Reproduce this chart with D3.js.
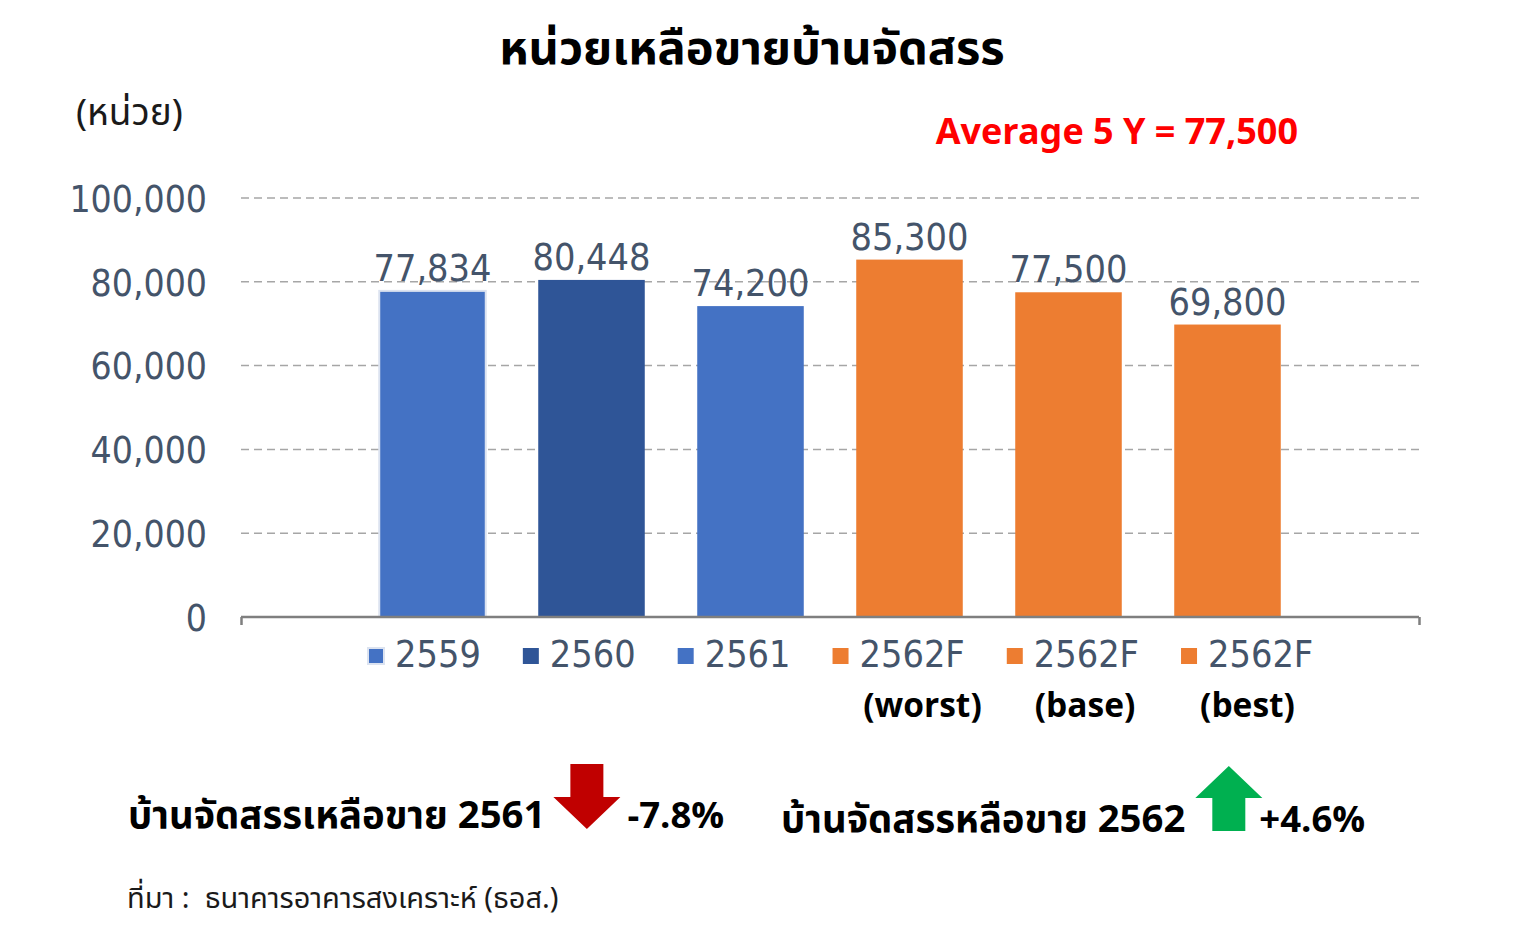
<!DOCTYPE html>
<html>
<head>
<meta charset="utf-8">
<script src="https://cdn.jsdelivr.net/npm/d3@7"></script>
<style>
  html, body { margin: 0; padding: 0; background: #ffffff; }
  svg { display: block; }
</style>
</head>
<body>
<svg id="chart" width="1516" height="934"></svg>
<script>
// ---- data ----
const categories = ["2559", "2560", "2561", "2562F", "2562F", "2562F"];
const subLabels = ["", "", "", "(worst)", "(base)", "(best)"];
const values = [77834, 80448, 74200, 85300, 77500, 69800];
const valueLabels = ["77,834", "80,448", "74,200", "85,300", "77,500", "69,800"];
const barColors = ["#4472C4", "#2F5597", "#4472C4", "#ED7D31", "#ED7D31", "#ED7D31"];
const yTicks = [0, 20000, 40000, 60000, 80000, 100000];
const title = "หน่วยเหลือขายบ้านจัดสรร";
const unitLabel = "(หน่วย)";
const averageNote = "Average 5 Y = 77,500";
const notes = [
  { text: "บ้านจัดสรรเหลือขาย 2561", change: "-7.8%", dir: "down" },
  { text: "บ้านจัดสรรหลือขาย 2562", change: "+4.6%", dir: "up" }
];
const source = "ที่มา :  ธนาคารอาคารสงเคราะห์ (ธอส.)";

// ---- layout ----
const svg = d3.select("#chart");
const plot = { left: 241, right: 1419, top: 198, bottom: 617 };
const numFont = "'DejaVu Sans Condensed', 'DejaVu Sans', sans-serif";
const thaiFont = "'Noto Sans Thai', 'Noto Sans', 'Noto Sans CJK SC', sans-serif";
const textGrey = "#44546A";

const y = d3.scaleLinear().domain([0, 100000]).range([plot.bottom, plot.top]);
const idx = categories.map((d, i) => i);
const x = d3.scaleBand().domain(idx).range([353, 1307]).paddingInner(0.33).paddingOuter(0.165);

// title
svg.append("text").attr("x", 752).attr("y", 64).attr("text-anchor", "middle")
  .attr("font-family", thaiFont).attr("font-weight", "bold").attr("font-size", 47)
  .attr("fill", "#000").text(title);

svg.append("text").attr("x", 76).attr("y", 125)
  .attr("font-family", thaiFont).attr("font-size", 37)
  .attr("fill", "#1a1a1a").text(unitLabel);

svg.append("text").attr("x", 1298).attr("y", 144).attr("text-anchor", "end")
  .attr("font-family", thaiFont).attr("font-weight", "bold").attr("font-size", 36)
  .attr("fill", "#FF0000").text(averageNote);

// gridlines
svg.append("g").selectAll("line").data(yTicks.filter(d => d > 0)).join("line")
  .attr("x1", plot.left).attr("x2", plot.right)
  .attr("y1", d => y(d)).attr("y2", d => y(d))
  .attr("stroke", "#A6A6A6").attr("stroke-width", 1.5).attr("stroke-dasharray", "8,5");

// y axis labels
const yAxis = d3.axisLeft(y).tickValues(yTicks).tickSize(0).tickPadding(0)
  .tickFormat(d3.format(","));
const yg = svg.append("g").attr("transform", `translate(${207},0)`).call(yAxis);
yg.select(".domain").remove();
yg.selectAll("text").attr("font-family", numFont).attr("font-size", 37)
  .attr("fill", textGrey).attr("dy", "0.36em");

// bars
svg.append("g").selectAll("rect").data(values).join("rect")
  .attr("x", (d, i) => x(i)).attr("width", x.bandwidth())
  .attr("y", d => y(d)).attr("height", d => plot.bottom - y(d))
  .attr("fill", (d, i) => barColors[i])
  .attr("stroke", (d, i) => i === 0 ? "#DCE3F0" : "none")
  .attr("stroke-width", 2);

// value labels
svg.append("g").selectAll("text").data(values).join("text")
  .attr("x", (d, i) => x(i) + x.bandwidth() / 2)
  .attr("y", d => y(d) - 10)
  .attr("text-anchor", "middle")
  .attr("font-family", numFont).attr("font-size", 37.5)
  .attr("fill", textGrey)
  .text((d, i) => valueLabels[i]);

// x axis line
const xAxisScale = d3.scaleLinear().domain([0, 1]).range([plot.left, plot.right]);
const xAxis = d3.axisBottom(xAxisScale).tickValues([0, 1]).tickSize(8).tickFormat("");
const xg = svg.append("g").attr("transform", `translate(0,${plot.bottom})`).call(xAxis);
xg.select(".domain").attr("stroke", "#7F7F7F").attr("stroke-width", 2.5)
  .attr("d", `M${plot.left},0H${plot.right}`);
xg.selectAll(".tick line").attr("stroke", "#7F7F7F").attr("stroke-width", 2.5);

// legend-like category labels
const legend = svg.append("g");
let lx = 368;
const legY = 667;
categories.forEach((c, i) => {
  legend.append("rect").attr("x", lx).attr("y", legY - 19).attr("width", 16).attr("height", 16)
    .attr("fill", barColors[i])
    .attr("stroke", i === 0 ? "#DCE3F0" : "none").attr("stroke-width", 2);
  const t = legend.append("text").attr("x", lx + 27).attr("y", legY)
    .attr("font-family", numFont).attr("font-size", 37.5).attr("fill", textGrey).text(c);
  const w = t.node().getComputedTextLength();
  lx += 27 + w + 42;
});

// sub labels
svg.append("g").selectAll("text").data(subLabels).join("text")
  .attr("x", (d, i) => x(i) + x.bandwidth() / 2 + 13 + (i - 3) * 3.5)
  .attr("y", 717).attr("text-anchor", "middle")
  .attr("font-family", thaiFont).attr("font-weight", "bold").attr("font-size", 33.5)
  .attr("fill", "#000").text(d => d);

// notes with arrows
const noteX = [128, 781];
const noteY = [828, 832];
const arrowGap = [8, 10];
const arrowColor = { down: "#C00000", up: "#00B050" };
notes.forEach((n, i) => {
  const t = svg.append("text").attr("x", noteX[i]).attr("y", noteY[i])
    .attr("font-family", thaiFont).attr("font-weight", "bold").attr("font-size", 38.3)
    .attr("fill", "#000").text(n.text);
  const w = t.node().getComputedTextLength();
  const ax = noteX[i] + w + arrowGap[i];
  const aw = 67, sw = 33;
  let path;
  if (n.dir === "down") {
    const top = noteY[i] - 64;
    path = `M${ax + (aw - sw) / 2},${top}h${sw}v33h${(aw - sw) / 2}l${-aw / 2},32l${-aw / 2},-32h${(aw - sw) / 2}z`;
  } else {
    const top = noteY[i] - 66;
    path = `M${ax + aw / 2},${top}l${aw / 2},32h${-(aw - sw) / 2}v33h${-sw}v-33h${-(aw - sw) / 2}z`;
  }
  svg.append("path").attr("d", path).attr("fill", arrowColor[n.dir]);
  svg.append("text").attr("x", ax + aw + (n.dir === "down" ? 7 : -3)).attr("y", noteY[i])
    .attr("font-family", thaiFont).attr("font-weight", "bold").attr("font-size", 36.5)
    .attr("fill", "#000").text(n.change);
});

// source
svg.append("text").attr("x", 127).attr("y", 908)
  .attr("font-family", thaiFont).attr("font-size", 29)
  .style("white-space", "pre").attr("xml:space", "preserve")
  .attr("fill", "#1a1a1a").text(source);
</script>
</body>
</html>
